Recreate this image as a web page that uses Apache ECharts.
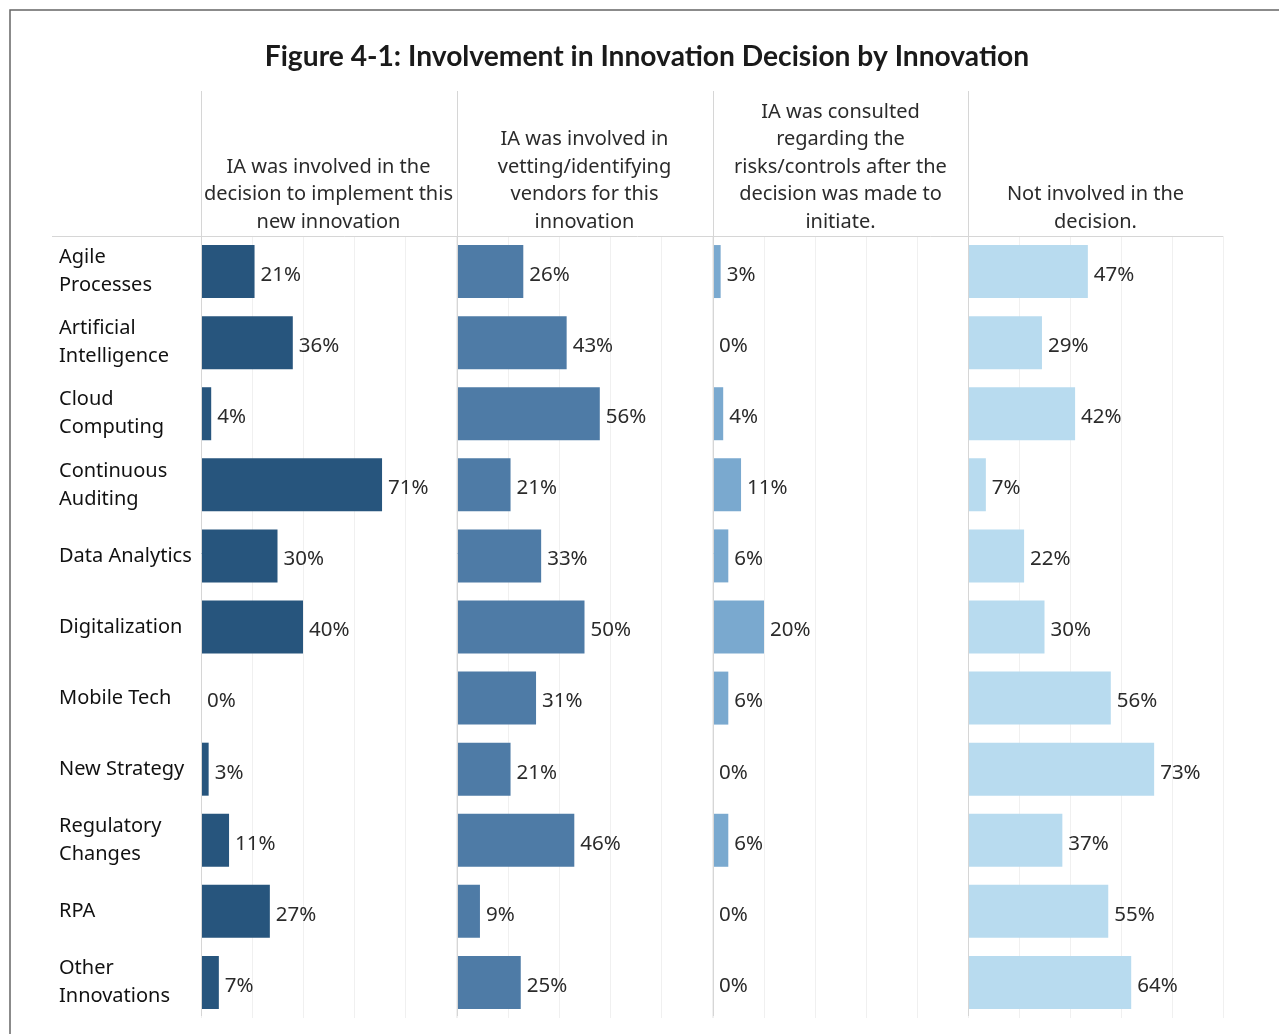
<!DOCTYPE html>
<html>
<head>
<meta charset="utf-8">
<script src="https://cdn.jsdelivr.net/npm/echarts@6/dist/echarts.min.js"></script>
<style>
  html, body { margin: 0; padding: 0; background: #fff; }
  #chart { width: 1279px; height: 1034px; }
</style>
</head>
<body>
<div id="chart"></div>
<script>
// Innovation categories (rows)
const categories = [
  'Agile\nProcesses', 'Artificial\nIntelligence', 'Cloud\nComputing',
  'Continuous\nAuditing', 'Data Analytics', 'Digitalization', 'Mobile Tech',
  'New Strategy', 'Regulatory\nChanges', 'RPA', 'Other\nInnovations'
];

// Column headers (one panel each)
const panelHeaders = [
  'IA was involved in the\ndecision to implement this\nnew innovation',
  'IA was involved in\nvetting/identifying\nvendors for this\ninnovation',
  'IA was consulted\nregarding the\nrisks/controls after the\ndecision was made to\ninitiate.',
  'Not involved in the\ndecision.'
];

// Share of respondents (%) per innovation
const involvedImplement = [21, 36, 4, 71, 30, 40, 0, 3, 11, 27, 7];
const involvedVetting   = [26, 43, 56, 21, 33, 50, 31, 21, 46, 9, 25];
const consultedAfter    = [3, 0, 4, 11, 6, 20, 6, 0, 6, 0, 0];
const notInvolved       = [47, 29, 42, 7, 22, 30, 56, 73, 37, 55, 64];

const seriesData = [involvedImplement, involvedVetting, consultedAfter, notInvolved];
const panelColors = ['#27557d', '#4e7ba6', '#7aa9cf', '#b8dbef'];

const panelLeft = [201, 457, 713, 968];
const panelWidth = 255;
const gridTop = 236;
const gridBottom = 16;

const font = '"Noto Sans", "Open Sans", sans-serif';

const grids = [], xAxes = [], yAxes = [], series = [], graphics = [];

panelLeft.forEach((left, i) => {
  grids.push({ left: left, width: panelWidth, top: gridTop, bottom: gridBottom });
  xAxes.push({
    type: 'value', gridIndex: i, min: 0, max: 100, interval: 20,
    axisLine: { show: false }, axisTick: { show: false }, axisLabel: { show: false },
    splitLine: { show: true, lineStyle: { color: '#f0f0f0', width: 1 } }
  });
  yAxes.push({
    type: 'category', gridIndex: i, data: categories, inverse: true,
    axisLine: { show: false }, axisTick: { show: false },
    axisLabel: i === 0 ? {
      show: true, align: 'left', margin: left - 59,
      color: '#111', fontSize: 20, lineHeight: 28, fontFamily: font,
      padding: [8, 0, 0, 0]
    } : { show: false },
    splitLine: { show: false }
  });
  series.push({
    type: 'bar', xAxisIndex: i, yAxisIndex: i,
    data: seriesData[i], barWidth: 53,
    itemStyle: { color: panelColors[i] },
    label: {
      show: true, position: 'right', distance: 6, offset: [0, 3.5],
      formatter: '{c}%', color: '#2b2b2b', fontSize: 20.5, fontFamily: font
    },
    silent: true
  });
  // panel separator line
  graphics.push({
    type: 'line', shape: { x1: left + 0.5, y1: 91, x2: left + 0.5, y2: 1016 },
    style: { stroke: '#d6d6d6', lineWidth: 1 }, z: 5
  });
  // column header
  graphics.push({
    type: 'text', x: left + panelWidth / 2, y: 236,
    style: {
      text: panelHeaders[i], textAlign: 'center', textVerticalAlign: 'bottom',
      fontSize: 20, lineHeight: 27.5, fill: '#2b2b2b', fontFamily: font
    }
  });
});

// header divider
graphics.push({
  type: 'line', shape: { x1: 52, y1: 236.5, x2: 1223, y2: 236.5 },
  style: { stroke: '#d6d6d6', lineWidth: 1 }, z: 5
});
// outer frame
graphics.push({
  type: 'rect', shape: { x: 10, y: 10, width: 1400, height: 1200 },
  style: { fill: 'none', stroke: '#666', lineWidth: 1.5 }, z: 6
});

const chart = echarts.init(document.getElementById('chart'), null, { renderer: 'canvas' });
chart.setOption({
  backgroundColor: '#fff',
  animation: false,
  title: {
    text: 'Figure 4-1: Involvement in Innovation Decision by Innovation',
    left: 642, top: 38, textAlign: 'center',
    textStyle: { fontSize: 28.2, fontWeight: 'bold', color: '#1a1a1a', fontFamily: 'Lato, "Noto Sans", sans-serif' }
  },
  grid: grids,
  xAxis: xAxes,
  yAxis: yAxes,
  series: series,
  graphic: graphics
});
</script>
</body>
</html>
